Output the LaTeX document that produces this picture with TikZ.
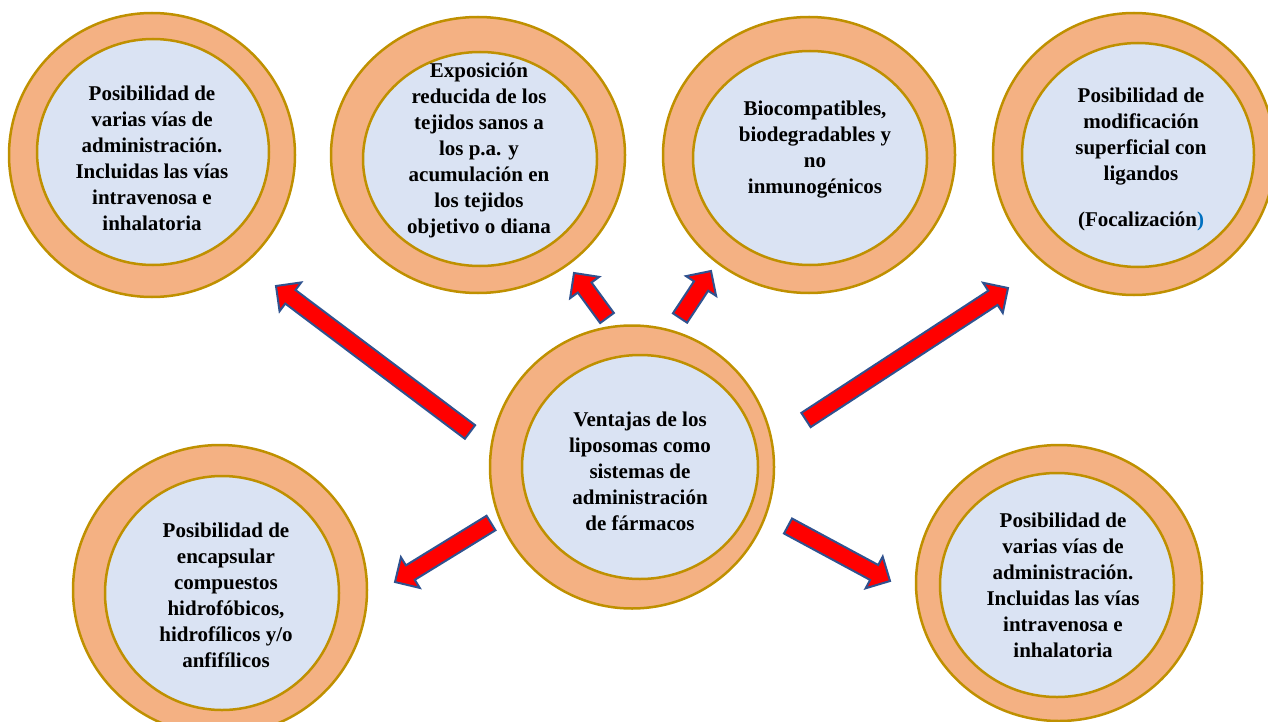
\documentclass[tikz,border=0pt]{standalone}
\usepackage{fontspec}
\setmainfont{Liberation Serif}
\usetikzlibrary{calc,shapes.geometric}
\definecolor{ringfill}{HTML}{F4B183}
\definecolor{ringline}{HTML}{BF9000}
\definecolor{corefill}{HTML}{DAE3F3}
\definecolor{arrfill}{HTML}{FF0000}
\definecolor{arrline}{HTML}{2F528F}
\definecolor{parblue}{HTML}{0070C0}
\tikzset{
  ring/.style={ellipse, draw=ringline, fill=ringfill, line width=2.5pt, inner sep=0pt, outer sep=0pt},
  core/.style={ellipse, draw=ringline, fill=corefill, line width=2.5pt, inner sep=0pt, outer sep=0pt},
  txt/.style={align=center, font=\bfseries\fontsize{21pt}{26pt}\selectfont, inner sep=0pt},
  blockarrow/.style={draw=arrline, fill=arrfill, line width=2pt, line join=miter}
}
\newcommand{\blockarr}[2]{%
  \coordinate (#1b) at ($(#2)!18pt!(#1)$);
  \draw[blockarrow] ($(#1)!8.5pt!90:(#2)$) -- ($(#1b)!8.5pt!90:(#2)$) -- ($(#1b)!18pt!90:(#2)$) -- (#2)
    -- ($(#1b)!18pt!-90:(#2)$) -- ($(#1b)!8.5pt!-90:(#2)$) -- ($(#1)!8.5pt!-90:(#2)$) -- cycle;
}
\begin{document}
\begin{tikzpicture}[x=1pt,y=-1pt]
\useasboundingbox (0,0) rectangle (1268,722);
\clip (0,0) rectangle (1268,722);
% circles
\node[ring, minimum width=286pt, minimum height=284pt] (c1o) at (152,155) {};
\node[core, minimum width=232pt, minimum height=226pt] (c1i) at (153,152) {};
\node[ring, minimum width=294pt, minimum height=276pt] (c2o) at (478,155) {};
\node[core, minimum width=234pt, minimum height=214pt] (c2i) at (480,159) {};
\node[ring, minimum width=292pt, minimum height=276pt] (c3o) at (809,155) {};
\node[core, minimum width=234pt, minimum height=214pt] (c3i) at (810,158) {};
\node[ring, minimum width=282pt, minimum height=282pt] (c4o) at (1134,154) {};
\node[core, minimum width=232pt, minimum height=224pt] (c4i) at (1138,155) {};
\node[ring, minimum width=294pt, minimum height=290pt] (c5o) at (220,590) {};
\node[core, minimum width=234pt, minimum height=234pt] (c5i) at (222,593) {};
\node[ring, minimum width=286pt, minimum height=276pt] (c6o) at (1059,583) {};
\node[core, minimum width=234pt, minimum height=224pt] (c6i) at (1057,585) {};
\node[ring, minimum width=284pt, minimum height=283pt] (c0o) at (632,467) {};
\node[core, minimum width=236pt, minimum height=224pt] (c0i) at (640,467) {};
% texts
\node[txt] (t1) at (152,158) {Posibilidad de\\varias vías de\\administración.\\Incluidas las vías\\intravenosa e\\inhalatoria};
\node[txt] (t2) at (479,150) {Exposición\\reducida de los\\tejidos sanos a\\los p.a. y\\acumulación en\\los tejidos\\objetivo o diana};
\node[txt] (t3) at (815,150) {Biocompatibles,\\biodegradables y\\no\\inmunogénicos};
\node[txt] (t4) at (1141,159) {Posibilidad de\\modificación\\superficial con\\ligandos\\[20pt](Focalización\textcolor{parblue}{)}};
\node[txt] (t5) at (226,595) {Posibilidad de\\encapsular\\compuestos\\hidrofóbicos,\\hidrofílicos y/o\\anfifílicos};
\node[txt] (t6) at (1063,585) {Posibilidad de\\varias vías de\\administración.\\Incluidas las vías\\intravenosa e\\inhalatoria};
\node[txt] (t0) at (640,471) {Ventajas de los\\liposomas como\\sistemas de\\administración\\de fármacos};
% arrows
\coordinate (a1) at (470,432); \coordinate (h1) at (276,286);
\coordinate (a2) at (607,318); \coordinate (h2) at (574,273);
\coordinate (a3) at (680,318); \coordinate (h3) at (711,271);
\coordinate (a4) at (806,420); \coordinate (h4) at (1008,288);
\coordinate (a5) at (491,523); \coordinate (h5) at (395,582);
\coordinate (a6) at (788,526); \coordinate (h6) at (890,581);
\blockarr{a1}{h1}
\blockarr{a2}{h2}
\blockarr{a3}{h3}
\blockarr{a4}{h4}
\blockarr{a5}{h5}
\blockarr{a6}{h6}
\end{tikzpicture}
\end{document}
